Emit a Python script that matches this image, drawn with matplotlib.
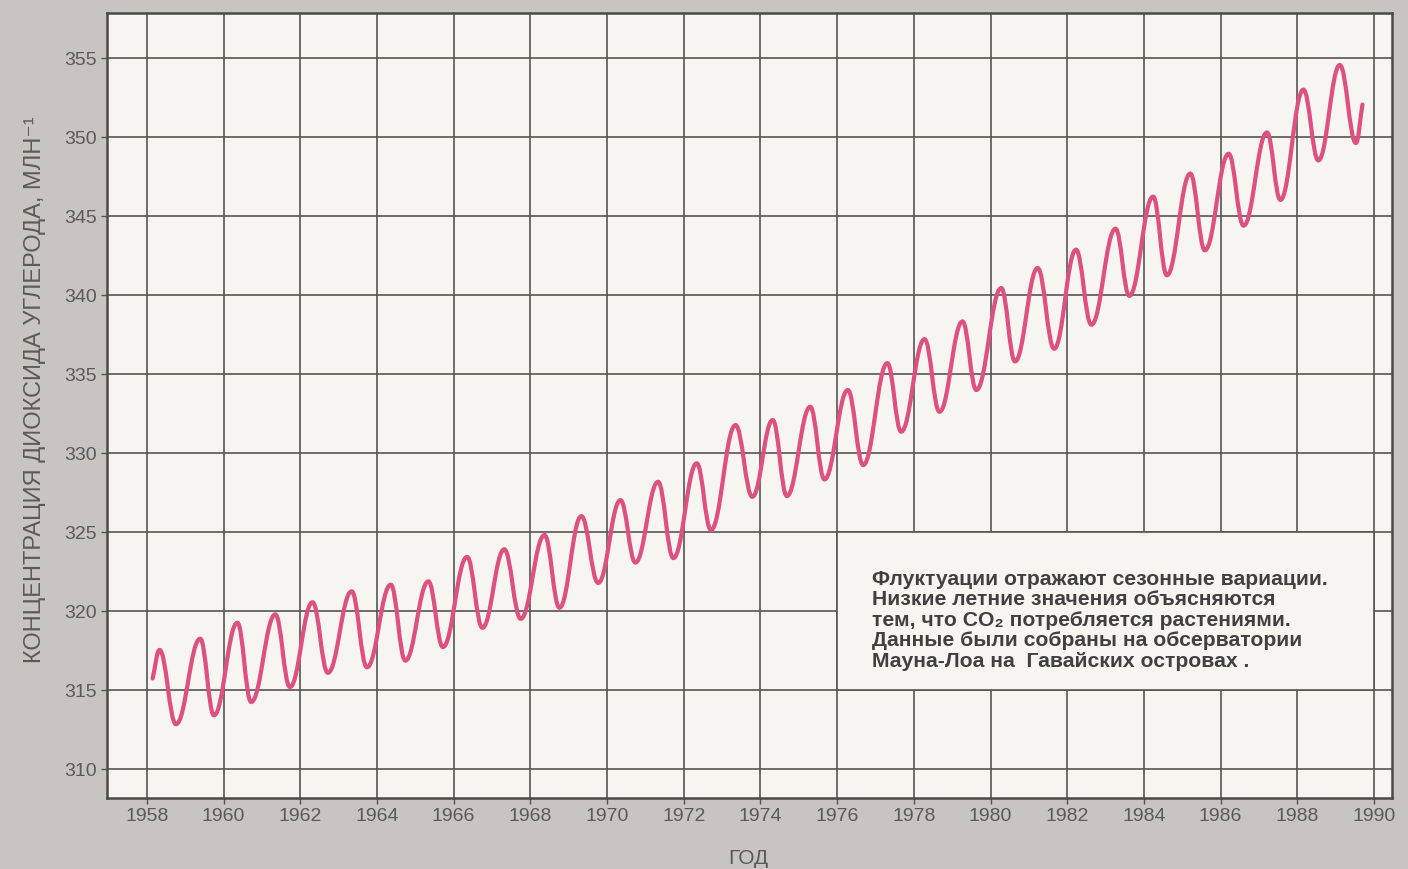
import matplotlib
matplotlib.use('Agg')
import matplotlib.pyplot as plt
from matplotlib.path import Path
from matplotlib.patches import PathPatch, Rectangle

# годы и значения точек перегиба (пики/минимумы)
years = [1958.15, 1958.33, 1958.76, 1959.39, 1959.75, 1960.36, 1960.72, 1961.35, 1961.73,
         1962.32, 1962.72, 1963.34, 1963.74, 1964.36, 1964.74, 1965.34, 1965.72, 1966.35,
         1966.75, 1967.32, 1967.75, 1968.37, 1968.76, 1969.33, 1969.77, 1970.35, 1970.74,
         1971.33, 1971.73, 1972.34, 1972.71, 1973.35, 1973.79, 1974.32, 1974.69, 1975.30,
         1975.67, 1976.28, 1976.68, 1977.31, 1977.67, 1978.28, 1978.67, 1979.27, 1979.63,
         1980.28, 1980.64, 1981.23, 1981.66, 1982.23, 1982.63, 1983.26, 1983.62, 1984.24,
         1984.60, 1985.21, 1985.59, 1986.21, 1986.60, 1987.21, 1987.56, 1988.16, 1988.55,
         1989.11, 1989.53, 1989.70]
co2 = [315.75, 317.56, 312.86, 318.27, 313.42, 319.28, 314.26, 319.81, 315.21, 320.58,
       316.11, 321.27, 316.46, 321.69, 316.88, 321.90, 317.74, 323.45, 318.96, 323.93,
       319.53, 324.83, 320.23, 326.03, 321.80, 327.04, 323.09, 328.20, 323.37, 329.37,
       325.15, 331.79, 327.25, 332.11, 327.30, 332.95, 328.35, 334.01, 329.26, 335.71,
       331.37, 337.23, 332.63, 338.35, 334.01, 340.46, 335.82, 341.73, 336.62, 342.89,
       338.14, 344.22, 339.97, 346.25, 341.27, 347.71, 342.85, 348.96, 344.41, 350.31,
       346.04, 353.02, 348.54, 354.58, 349.64, 352.08]

x_ticks = list(range(1958, 1991, 2))
y_ticks = list(range(310, 356, 5))

note = ('Флуктуации отражают сезонные вариации.\n'
        'Низкие летние значения объясняются\n'
        'тем, что CO\u2082 потребляется растениями.\n'
        'Данные были собраны на обсерватории\n'
        'Мауна-Лоа на  Гавайских островах .')

# цвета
bg = '#c8c5c0'
paper = '#f7f5f0'
grid_c = '#555555'
text_c = '#5a5a5a'
line_c = '#dd5080'

plt.rcParams['font.family'] = ['Liberation Sans', 'DejaVu Sans']

fig = plt.figure(figsize=(14.08, 8.69), dpi=100, facecolor=bg)
ax = fig.add_axes([107 / 1408, 1 - 797.5 / 869, (1392 - 107) / 1408, (797.5 - 13) / 869])
ax.set_facecolor(paper)

ax.set_xlim(1956.96, 1990.47)
ax.set_ylim(308.22, 357.87)

ax.set_xticks(x_ticks)
ax.set_yticks(y_ticks)
ax.grid(True, color=grid_c, lw=1.2)
ax.set_axisbelow(True)
for s in ax.spines.values():
    s.set_color('#4a4a4a')
    s.set_linewidth(1.8)
ax.tick_params(colors=grid_c, length=4, width=1, labelcolor=text_c, labelsize=14)

# белое поле под подписью: сетка внутри него не видна
ax.add_patch(Rectangle((1976, 315), 14, 10, facecolor=paper, edgecolor=grid_c,
                       lw=1.2, zorder=1))

# плавная кривая: кубические сегменты через точки перегиба с горизонтальными касательными
k = 0.4
n = len(years)
verts = [(years[0], co2[0])]
codes = [Path.MOVETO]
for i in range(n - 1):
    x0, y0, x1, y1 = years[i], co2[i], years[i + 1], co2[i + 1]
    dx, dy = x1 - x0, y1 - y0
    c1 = (x0 + k * dx, y0) if i > 0 else (x0 + k * dx, y0 + k * dy)
    c2 = (x1 - k * dx, y1) if i + 1 < n - 1 else (x1 - k * dx, y1 - k * dy)
    verts += [c1, c2, (x1, y1)]
    codes += [Path.CURVE4] * 3
ax.add_patch(PathPatch(Path(verts, codes), fill=False, edgecolor=line_c, lw=3.0,
                       capstyle='round', joinstyle='round', zorder=3))

ax.text(0.595, 0.29, note, transform=ax.transAxes, fontsize=15.2, fontweight='bold',
        color='#404040', va='top', ha='left', linespacing=1.1, zorder=4)

fig.text(35 / 1408, 1 - 390 / 869, 'КОНЦЕНТРАЦИЯ ДИОКСИДА УГЛЕРОДА, МЛН\u207b\u00b9',
         rotation=90, ha='center', va='center', fontsize=17, color=text_c)
fig.text(748 / 1408, 1 - 858 / 869, 'ГОД', ha='center', va='center', fontsize=15,
         color=text_c)

fig.savefig('out.png', dpi=100, facecolor=bg)
